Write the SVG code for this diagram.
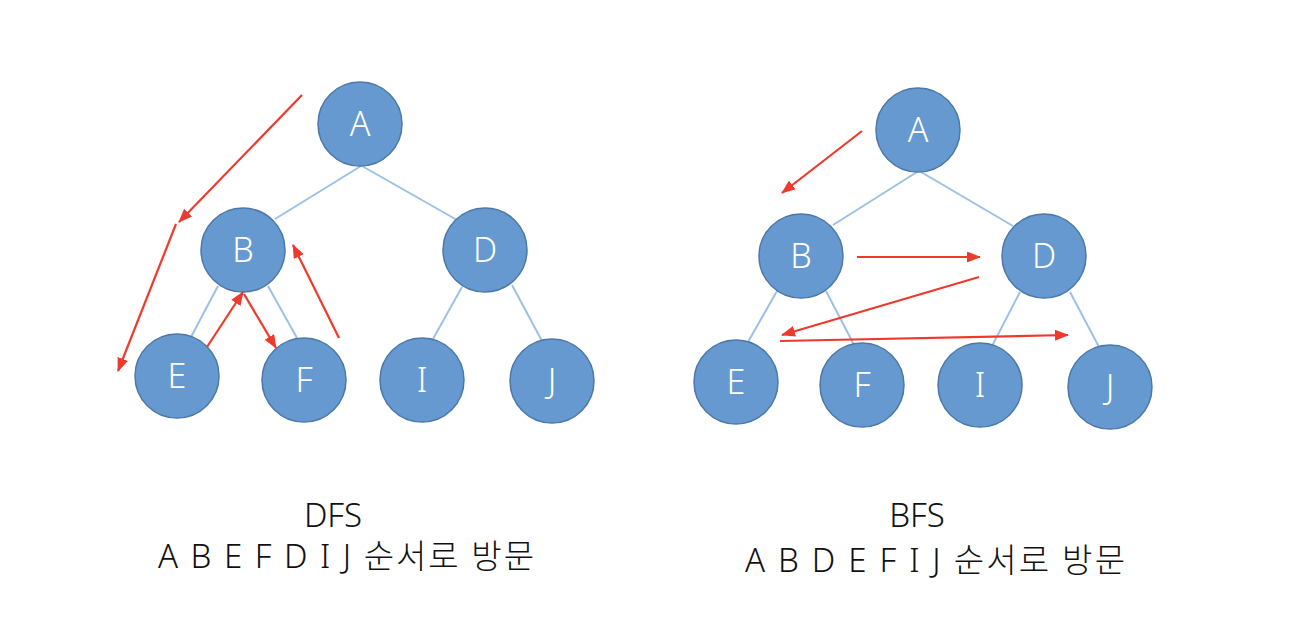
<svg xmlns="http://www.w3.org/2000/svg" width="1298" height="618" viewBox="0 0 1298 618">
<style>
.edge{stroke:#9cc1e6;stroke-width:2;fill:none}
.trav{stroke:#ee3a2c;stroke-width:2.2;fill:none;marker-end:url(#ah)}
.node circle{fill:#6699cf;stroke:#4c78a9;stroke-width:1.5}
.node text{fill:#ffffff;font-family:"Noto Sans","Noto Sans CJK KR",sans-serif;font-weight:300;font-size:34px;text-anchor:middle}
.cap{fill:#111111;font-family:"Noto Sans","Noto Sans CJK KR",sans-serif;font-weight:300;font-size:33px;text-anchor:middle}
</style>
<defs>
<marker id="ah" markerUnits="userSpaceOnUse" markerWidth="14" markerHeight="11" viewBox="0 0 14 11" refX="13" refY="5.5" orient="auto">
<path d="M0,0 L14,5.5 L0,11 z" fill="#ee3a2c"/>
</marker>
</defs>
<rect width="1298" height="618" fill="#ffffff"/>

<g id="dfs-edges">
<line class="edge" x1="361" y1="166" x2="275" y2="219"/>
<line class="edge" x1="362" y1="166" x2="457" y2="220"/>
<line class="edge" x1="218" y1="286" x2="191" y2="337"/>
<line class="edge" x1="268" y1="286" x2="297" y2="338"/>
<line class="edge" x1="462" y1="287" x2="433" y2="339"/>
<line class="edge" x1="512" y1="285" x2="542" y2="341"/>
</g>
<g id="dfs-nodes">
<g id="dfs-A" class="node"><circle cx="360" cy="124" r="42"/><text x="360" y="136">A</text></g>
<g id="dfs-B" class="node"><circle cx="243" cy="250" r="42"/><text x="243" y="262">B</text></g>
<g id="dfs-D" class="node"><circle cx="485" cy="250" r="42"/><text x="485" y="262">D</text></g>
<g id="dfs-E" class="node"><circle cx="177" cy="376" r="42"/><text x="177" y="388">E</text></g>
<g id="dfs-F" class="node"><circle cx="304" cy="380" r="42"/><text x="304" y="392">F</text></g>
<g id="dfs-I" class="node"><circle cx="422" cy="380" r="42"/><text x="422" y="392">I</text></g>
<g id="dfs-J" class="node"><circle cx="552" cy="381" r="42"/><text x="552" y="393">J</text></g>
</g>
<g id="dfs-traversal">
<line class="trav" x1="302" y1="95" x2="179" y2="222"/>
<line class="trav" x1="176" y1="224" x2="118" y2="371"/>
<line class="trav" x1="207" y1="347" x2="243" y2="292"/>
<line class="trav" x1="244" y1="294" x2="276" y2="348"/>
<line class="trav" x1="339" y1="338" x2="293" y2="245"/>
</g>

<g id="bfs-edges">
<line class="edge" x1="917" y1="172" x2="833" y2="225"/>
<line class="edge" x1="921" y1="172" x2="1013" y2="226"/>
<line class="edge" x1="777" y1="291" x2="748" y2="342"/>
<line class="edge" x1="826" y1="291" x2="853" y2="343"/>
<line class="edge" x1="1020" y1="292" x2="992" y2="346"/>
<line class="edge" x1="1070" y1="292" x2="1099" y2="347"/>
</g>
<g id="bfs-nodes">
<g id="bfs-A" class="node"><circle cx="918" cy="130" r="42"/><text x="918" y="142">A</text></g>
<g id="bfs-B" class="node"><circle cx="801" cy="256" r="42"/><text x="801" y="268">B</text></g>
<g id="bfs-D" class="node"><circle cx="1044" cy="256" r="42"/><text x="1044" y="268">D</text></g>
<g id="bfs-E" class="node"><circle cx="736" cy="382" r="42"/><text x="736" y="394">E</text></g>
<g id="bfs-F" class="node"><circle cx="862" cy="385" r="42"/><text x="862" y="397">F</text></g>
<g id="bfs-I" class="node"><circle cx="980" cy="385" r="42"/><text x="980" y="397">I</text></g>
<g id="bfs-J" class="node"><circle cx="1110" cy="387" r="42"/><text x="1110" y="399">J</text></g>
</g>
<g id="bfs-traversal">
<line class="trav" x1="862" y1="131" x2="782" y2="193"/>
<line class="trav" x1="857" y1="257" x2="980" y2="257"/>
<line class="trav" x1="979" y1="277" x2="782" y2="335"/>
<line class="trav" x1="780" y1="341" x2="1068" y2="335"/>
</g>

<g id="captions">
<text class="cap" x="333" y="527">DFS</text>
<text class="cap" x="346" y="568" textLength="376" lengthAdjust="spacing">A B E F D I J 순서로 방문</text>
<text class="cap" x="917" y="527">BFS</text>
<text class="cap" x="935" y="572" textLength="380" lengthAdjust="spacing">A B D E F I J 순서로 방문</text>
</g>
</svg>
